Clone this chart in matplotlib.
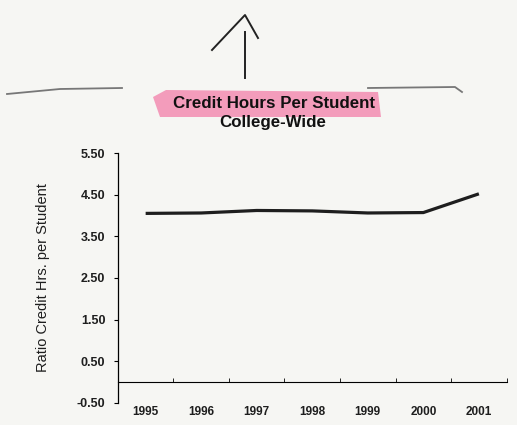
import matplotlib
matplotlib.use("Agg")
import matplotlib.pyplot as plt
from matplotlib.patches import Polygon
from matplotlib.ticker import FixedLocator

years = ["1995", "1996", "1997", "1998", "1999", "2000", "2001"]
ratio = [4.05, 4.06, 4.12, 4.11, 4.06, 4.07, 4.52]
yticks = [-0.5, 0.5, 1.5, 2.5, 3.5, 4.5, 5.5]

plt.rcParams.update({"font.family": "Liberation Sans"})
BG = "#f6f6f3"
INK = "#1e1e1e"
W, H = 517, 425


def px(xs, ys):
    # page pixel coords (from the scan) -> figure fraction
    return [x / W for x in xs], [1 - y / H for y in ys]


fig = plt.figure(figsize=(5.17, 4.25), dpi=100, facecolor=BG)
ax = fig.add_axes([0.228, 0.052, 0.752, 0.588], facecolor=BG)

# move the x spine first: set_position resets the tick labels
for s in ("top", "right"):
    ax.spines[s].set_visible(False)
ax.spines["bottom"].set_position(("data", 0))
ax.spines["bottom"].set_linewidth(0.8)
ax.spines["left"].set_linewidth(0.9)

x = list(range(len(years)))
ax.plot(x, ratio, color=INK, lw=2.3, solid_capstyle="butt")

ax.set_xlim(-0.5, len(years) - 0.5)
ax.set_ylim(-0.5, 5.5)
ax.set_yticks(yticks)
ax.set_yticklabels([f"{v:.2f}" for v in yticks])
ax.set_xticks(x)
ax.set_xticklabels(years)
ax.xaxis.set_minor_locator(FixedLocator([i + 0.5 for i in x]))
ax.tick_params(axis="x", which="major", length=0, pad=17)
ax.tick_params(axis="x", which="minor", length=3, direction="in")
ax.tick_params(axis="y", length=3, width=0.8, pad=6)
for lab in ax.get_xticklabels():
    lab.set_fontweight("bold")
    lab.set_fontsize(8.5)
    lab.set_color(INK)
for lab in ax.get_yticklabels():
    lab.set_fontweight("bold")
    lab.set_fontsize(9)
    lab.set_color(INK)

ax.set_ylabel("Ratio Credit Hrs. per Student", fontsize=10.5, color=INK)
ax.yaxis.set_label_coords(-0.175, 0.5)

# pink highlighter stroke behind the title
hx, hy = px([153, 166, 378, 381, 160], [97, 90, 92, 117, 117])
fig.add_artist(Polygon(list(zip(hx, hy)), closed=True, fc="#f38db2",
                       ec="none", alpha=0.85))
fig.text(274 / W, 1 - 104 / H, "Credit Hours Per Student", ha="center",
         va="center", fontsize=12.2, fontweight="bold", color="#111")
fig.text(273 / W, 1 - 123 / H, "College-Wide", ha="center", va="center",
         fontsize=12.2, fontweight="bold", color="#111")

# hand-drawn arrow and page rules around the title
fig.add_artist(plt.Line2D(*px([245, 245], [32, 78]), color="#222", lw=1.4))
fig.add_artist(plt.Line2D(*px([212, 245, 258], [50, 15, 38]), color="#222",
                          lw=1.4))
fig.add_artist(plt.Line2D(*px([7, 60, 122], [94, 89, 88]), color="#777",
                          lw=1.3))
fig.add_artist(plt.Line2D(*px([368, 455, 462], [88, 87, 92]), color="#777",
                          lw=1.3))

fig.savefig("out.png", dpi=100, facecolor=BG)
